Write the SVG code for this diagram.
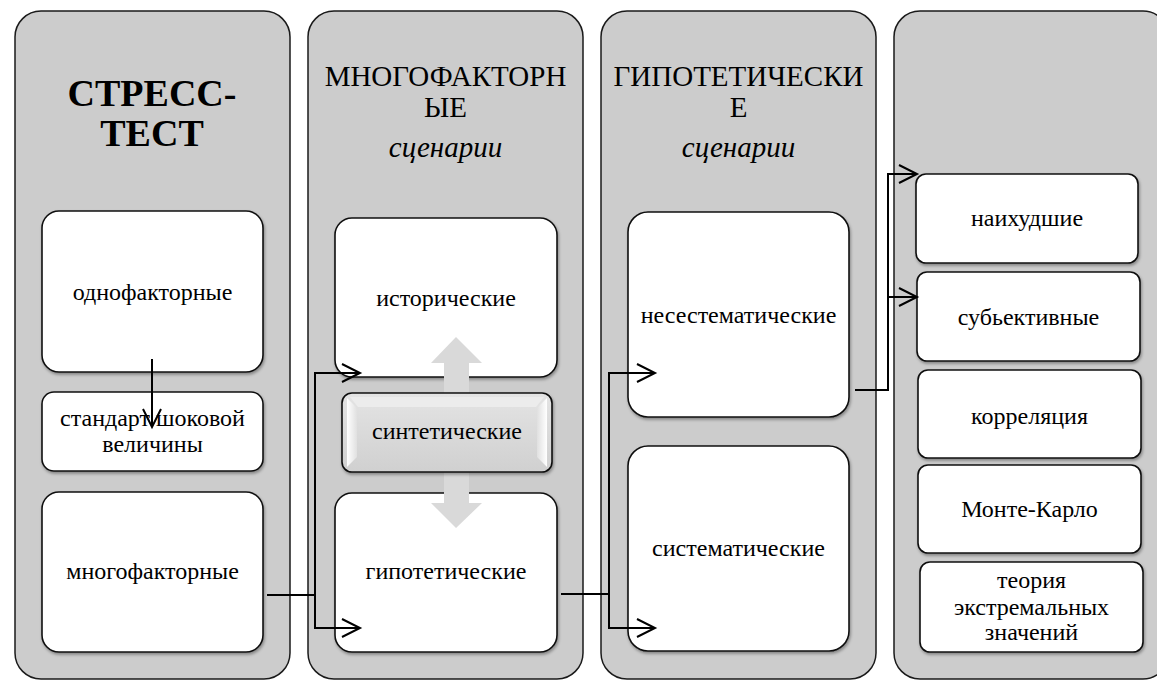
<svg xmlns="http://www.w3.org/2000/svg" width="1157" height="682" viewBox="0 0 1157 682">
<defs>
<marker id="ah" markerUnits="userSpaceOnUse" markerWidth="22" markerHeight="22" refX="19" refY="10" orient="auto">
<path d="M1,1 L19,10 L1,19" fill="none" stroke="#000" stroke-width="2"/>
</marker>
<filter id="sh" x="-10%" y="-10%" width="120%" height="125%">
<feDropShadow dx="1" dy="2" stdDeviation="1.5" flood-color="#000" flood-opacity="0.35"/>
</filter>
<linearGradient id="sg" x1="0" y1="0" x2="0" y2="1">
<stop offset="0" stop-color="#e4e4e4"/>
<stop offset="1" stop-color="#d0d0d0"/>
</linearGradient>
<linearGradient id="bl" x1="0" y1="0" x2="1" y2="0">
<stop offset="0" stop-color="#ffffff"/>
<stop offset="1" stop-color="#e0e0e0"/>
</linearGradient>
<linearGradient id="br" x1="1" y1="0" x2="0" y2="0">
<stop offset="0" stop-color="#ffffff"/>
<stop offset="1" stop-color="#e0e0e0"/>
</linearGradient>
</defs>

<g id="col1">
<rect fill="#cccccc" stroke="#1a1a1a" stroke-width="1.5" x="15" y="11" width="275" height="668" rx="26"/>
<text font-family="Liberation Serif" text-anchor="middle" x="152" y="106" font-size="38" font-weight="bold">СТРЕСС-</text>
<text font-family="Liberation Serif" text-anchor="middle" x="152" y="146" font-size="38" font-weight="bold">ТЕСТ</text>
</g>
<g id="col2">
<rect fill="#cccccc" stroke="#1a1a1a" stroke-width="1.5" x="308" y="11" width="275" height="668" rx="26"/>
<text font-family="Liberation Serif" text-anchor="middle" x="445.5" y="86" font-size="29">МНОГОФАКТОРН</text>
<text font-family="Liberation Serif" text-anchor="middle" x="445.5" y="117" font-size="29">ЫЕ</text>
<text font-family="Liberation Serif" text-anchor="middle" x="445.5" y="157" font-size="29" font-style="italic">сценарии</text>
</g>
<g id="col3">
<rect fill="#cccccc" stroke="#1a1a1a" stroke-width="1.5" x="601" y="11" width="275" height="668" rx="26"/>
<text font-family="Liberation Serif" text-anchor="middle" x="738.5" y="86" font-size="29">ГИПОТЕТИЧЕСКИ</text>
<text font-family="Liberation Serif" text-anchor="middle" x="738.5" y="117" font-size="29">Е</text>
<text font-family="Liberation Serif" text-anchor="middle" x="738.5" y="157" font-size="29" font-style="italic">сценарии</text>
</g>
<g id="col4">
<rect fill="#cccccc" stroke="#1a1a1a" stroke-width="1.5" x="894" y="11" width="275" height="668" rx="26"/>
</g>

<g id="n-odnofaktornye">
<rect fill="#fff" stroke="#111" stroke-width="1.6" filter="url(#sh)" x="42" y="211" width="221" height="161" rx="17"/>
<text font-family="Liberation Serif" text-anchor="middle" font-size="24" x="152.5" y="300">однофакторные</text>
</g>
<g id="n-standart">
<rect fill="#fff" stroke="#111" stroke-width="1.6" filter="url(#sh)" x="42" y="392" width="221" height="79" rx="12"/>
<text font-family="Liberation Serif" text-anchor="middle" font-size="24" x="152.5" y="426">стандарт шоковой</text>
<text font-family="Liberation Serif" text-anchor="middle" font-size="24" x="152.5" y="452">величины</text>
</g>
<g id="n-mnogofaktornye">
<rect fill="#fff" stroke="#111" stroke-width="1.6" filter="url(#sh)" x="42" y="492" width="221" height="160" rx="17"/>
<text font-family="Liberation Serif" text-anchor="middle" font-size="24" x="152.5" y="579">многофакторные</text>
</g>

<g id="n-istoricheskie">
<rect fill="#fff" stroke="#111" stroke-width="1.6" filter="url(#sh)" x="335" y="218" width="222" height="159" rx="17"/>
<text font-family="Liberation Serif" text-anchor="middle" font-size="24" x="446" y="306">исторические</text>
</g>
<g id="n-gipoteticheskie">
<rect fill="#fff" stroke="#111" stroke-width="1.6" filter="url(#sh)" x="335" y="493" width="222" height="159" rx="17"/>
<text font-family="Liberation Serif" text-anchor="middle" font-size="24" x="446" y="579">гипотетические</text>
</g>
<g id="double-arrow">
<path d="M456,337 L482,363 L469,363 L469,503 L482,503 L456,528 L431,503 L444,503 L444,363 L431,363 Z" fill="#d9d9d9"/>
</g>
<g id="n-sinteticheskie">
<rect x="342" y="393" width="210" height="79" rx="10" fill="url(#sg)" stroke="#111" stroke-width="1.6" filter="url(#sh)"/>
<polygon points="347,398 357,408 357,457 347,467" fill="url(#bl)"/>
<polygon points="547,398 537,408 537,457 547,467" fill="url(#br)"/>
<polygon points="350,397 544,397 536,407 358,407" fill="#ececec"/>
<text font-family="Liberation Serif" text-anchor="middle" font-size="24" x="447" y="439">синтетические</text>
</g>

<g id="n-nesistematicheskie">
<rect fill="#fff" stroke="#111" stroke-width="1.6" filter="url(#sh)" x="628" y="212" width="221" height="205" rx="20"/>
<text font-family="Liberation Serif" text-anchor="middle" font-size="24" x="738.5" y="323">несестематические</text>
</g>
<g id="n-sistematicheskie">
<rect fill="#fff" stroke="#111" stroke-width="1.6" filter="url(#sh)" x="628" y="446" width="221" height="205" rx="20"/>
<text font-family="Liberation Serif" text-anchor="middle" font-size="24" x="738.5" y="556">систематические</text>
</g>

<g id="n-naihudshie">
<rect fill="#fff" stroke="#111" stroke-width="1.6" filter="url(#sh)" x="916" y="174" width="222" height="89" rx="10"/>
<text font-family="Liberation Serif" text-anchor="middle" font-size="24" x="1027" y="226">наихудшие</text>
</g>
<g id="n-subektivnye">
<rect fill="#fff" stroke="#111" stroke-width="1.6" filter="url(#sh)" x="917" y="272" width="223" height="89" rx="10"/>
<text font-family="Liberation Serif" text-anchor="middle" font-size="24" x="1028.5" y="325">субьективные</text>
</g>
<g id="n-korrelyaciya">
<rect fill="#fff" stroke="#111" stroke-width="1.6" filter="url(#sh)" x="918" y="370" width="223" height="88" rx="10"/>
<text font-family="Liberation Serif" text-anchor="middle" font-size="24" x="1029.5" y="424">корреляция</text>
</g>
<g id="n-monte-karlo">
<rect fill="#fff" stroke="#111" stroke-width="1.6" filter="url(#sh)" x="918" y="465" width="223" height="88" rx="10"/>
<text font-family="Liberation Serif" text-anchor="middle" font-size="24" x="1029.5" y="517">Монте-Карло</text>
</g>
<g id="n-teoriya">
<rect fill="#fff" stroke="#111" stroke-width="1.6" filter="url(#sh)" x="920" y="562" width="223" height="90" rx="10"/>
<text font-family="Liberation Serif" text-anchor="middle" font-size="24" x="1031.5" y="588">теория</text>
<text font-family="Liberation Serif" text-anchor="middle" font-size="24" x="1031.5" y="615">экстремальных</text>
<text font-family="Liberation Serif" text-anchor="middle" font-size="24" x="1031.5" y="640">значений</text>
</g>

<g id="connectors" fill="none" stroke="#000" stroke-width="2">
<path d="M152,359 V427" marker-end="url(#ah)"/>
<path d="M267,595 H315"/>
<path d="M315,373 V628"/>
<path d="M314,373 H360" marker-end="url(#ah)"/>
<path d="M314,628 H360" marker-end="url(#ah)"/>
<path d="M561,594 H609"/>
<path d="M609,373 V628"/>
<path d="M608,373 H655" marker-end="url(#ah)"/>
<path d="M608,628 H655" marker-end="url(#ah)"/>
<path d="M855,390 H888"/>
<path d="M888,174 V391"/>
<path d="M887,174 H917" marker-end="url(#ah)"/>
<path d="M887,297 H917" marker-end="url(#ah)"/>
</g>
</svg>
